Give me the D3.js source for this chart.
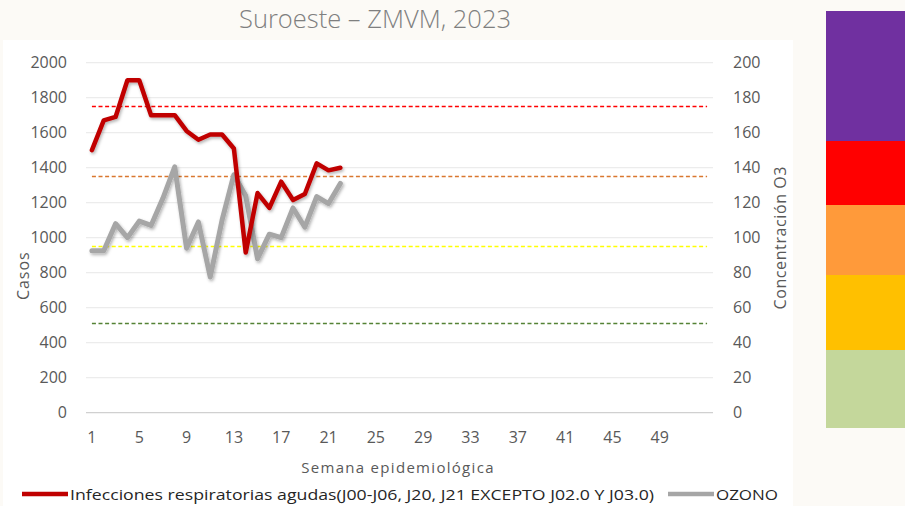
<!DOCTYPE html>
<html lang="es">
<head>
<meta charset="utf-8">
<script src="https://cdn.jsdelivr.net/npm/d3@7"></script>
<style>
  html, body { margin: 0; padding: 0; background: #fcfaf6; }
  svg { display: block; }
  text { font-family: "Open Sans", "Noto Sans", sans-serif; }
</style>
</head>
<body>
<svg id="chart" width="905" height="506"></svg>
<script>
// Epidemiological weeks shown on the category axis
const weeks = d3.range(1, 54);
const weekTicks = d3.range(1, 50, 4);

// Weekly acute respiratory infection cases (left axis)
const casos = [1500, 1670, 1690, 1900, 1900, 1700, 1700, 1700, 1610, 1560, 1590,
               1590, 1510, 915, 1255, 1170, 1320, 1215, 1250, 1425, 1385, 1400];

// Weekly ozone concentration (right axis)
const ozono = [92.5, 92.5, 108, 100, 109.5, 107, 122.5, 140.5, 94, 109, 77.5,
               110, 136, 124, 88, 102, 100, 117, 106, 123.5, 119.5, 131];

// Ozone concentration limits drawn as dashed reference lines
const limites = [51, 95, 135, 175];
const limiteColores = ["#548235", "#ffff00", "#d9772f", "#ff0000"];

// Axis ticks
const casosTicks = d3.range(0, 2001, 200);
const ozonoTicks = d3.range(0, 201, 20);

// Air quality colour key (top to bottom) with relative block heights
const claveColores = ["#7030a0", "#ff0000", "#ff9a3a", "#ffc000", "#c4d79b"];
const claveAlturas = [130, 64, 70, 75, 78];

const legendItems = [
  { label: "Infecciones respiratorias agudas(J00-J06, J20, J21 EXCEPTO J02.0 Y J03.0)", color: "#c00000" },
  { label: "OZONO", color: "#a6a6a6" }
];

const svg = d3.select("#chart");

const plot = { left: 86, right: 713, top: 62.7, bottom: 412.7 };

// Chart panel
svg.append("rect").attr("x", 3).attr("y", 40).attr("width", 790).attr("height", 466)
  .attr("fill", "#ffffff");

const defs = svg.append("defs");
const shadow = defs.append("filter").attr("id", "sombra")
  .attr("x", "-10%").attr("y", "-10%").attr("width", "120%").attr("height", "130%");
shadow.append("feDropShadow").attr("dx", 1.2).attr("dy", 1.8).attr("stdDeviation", 1.4)
  .attr("flood-color", "#000").attr("flood-opacity", 0.3);

const x = d3.scaleBand().domain(weeks).range([plot.left, plot.right]);
const yL = d3.scaleLinear().domain([0, 2000]).range([plot.bottom, plot.top]);
const yR = d3.scaleLinear().domain([0, 200]).range([plot.bottom, plot.top]);
const cx = w => x(w) + x.bandwidth() / 2;

// Horizontal gridlines
svg.append("g").selectAll("line").data(casosTicks).join("line")
  .attr("x1", plot.left).attr("x2", plot.right)
  .attr("y1", d => yL(d)).attr("y2", d => yL(d))
  .attr("stroke", d => d === 0 ? "#d0d0d0" : "#ececec").attr("stroke-width", 1.3);

const styleAxis = g => {
  g.select(".domain").remove();
  g.selectAll("text").attr("font-size", 16).attr("fill", "#595959")
    .attr("font-family", "'Open Sans', sans-serif");
};

// Left axis labels
svg.append("g").attr("transform", `translate(${plot.left - 19},0)`)
  .call(d3.axisLeft(yL).tickValues(casosTicks).tickFormat(d3.format("d")).tickSize(0).tickPadding(0))
  .call(styleAxis);

// Right axis labels
svg.append("g").attr("transform", `translate(${plot.right + 20},0)`)
  .call(d3.axisRight(yR).tickValues(ozonoTicks).tickFormat(d3.format("d")).tickSize(0).tickPadding(0))
  .call(styleAxis);

// Category axis labels
svg.append("g").attr("transform", `translate(0,${plot.bottom + 19})`)
  .call(d3.axisBottom(x).tickValues(weekTicks).tickSize(0).tickPadding(0))
  .call(styleAxis);

// Ozone limit reference lines
svg.append("g").selectAll("line").data(limites).join("line")
  .attr("x1", cx(weeks[0])).attr("x2", cx(weeks[weeks.length - 1]))
  .attr("y1", d => yR(d)).attr("y2", d => yR(d))
  .attr("stroke", (d, i) => limiteColores[i]).attr("stroke-width", 1.4)
  .attr("stroke-dasharray", "4,2.6");

// Ozone series
svg.append("path").datum(ozono)
  .attr("fill", "none").attr("stroke", "#a6a6a6").attr("stroke-width", 5)
  .attr("stroke-linejoin", "round").attr("stroke-linecap", "round")
  .attr("filter", "url(#sombra)")
  .attr("d", d3.line().x((d, i) => cx(weeks[i])).y(d => yR(d)));

// Respiratory infection cases series
svg.append("path").datum(casos)
  .attr("fill", "none").attr("stroke", "#c00000").attr("stroke-width", 4.5)
  .attr("stroke-linejoin", "round").attr("stroke-linecap", "round")
  .attr("filter", "url(#sombra)")
  .attr("d", d3.line().x((d, i) => cx(weeks[i])).y(d => yL(d)));

// Title
svg.append("text").attr("x", 375).attr("y", 28).attr("text-anchor", "middle")
  .attr("font-size", 25.5).attr("font-weight", 300).attr("fill", "#7f7f7f")
  .text("Suroeste \u2013 ZMVM, 2023");

// Axis titles
svg.append("text").attr("transform", `translate(29,${(plot.top + plot.bottom) / 2 + 38}) rotate(-90)`)
  .attr("text-anchor", "middle").attr("font-size", 16).attr("fill", "#595959")
  .attr("letter-spacing", 1).text("Casos");
svg.append("text").attr("transform", `translate(786,${(plot.top + plot.bottom) / 2}) rotate(-90)`)
  .attr("text-anchor", "middle").attr("font-size", 16).attr("fill", "#595959")
  .attr("letter-spacing", 0.6).text("Concentración O3");
svg.append("text").attr("x", 398).attr("y", 473).attr("text-anchor", "middle")
  .attr("font-size", 15).attr("fill", "#595959").attr("letter-spacing", 1.3)
  .text("Semana epidemiológica");

// Legend
const legend = svg.append("g").attr("transform", "translate(0,494)");
const legendPos = [{ x: 22, w: 584 }, { x: 668, w: 62 }];
legendItems.forEach((item, i) => {
  const p = legendPos[i];
  legend.append("line").attr("x1", p.x).attr("x2", p.x + 46).attr("y1", 0).attr("y2", 0)
    .attr("stroke", item.color).attr("stroke-width", 4.5);
  legend.append("text").attr("x", p.x + 48).attr("y", 6)
    .attr("font-size", 15).attr("fill", "#262626")
    .attr("textLength", p.w).attr("lengthAdjust", "spacingAndGlyphs")
    .text(item.label);
});

// Air quality colour key on the right edge
const claveTotal = d3.sum(claveAlturas);
const claveY = d3.scaleLinear().domain([0, claveTotal]).range([11, 428]);
const claveInicio = d3.cumsum([0, ...claveAlturas]);
svg.append("g").selectAll("rect").data(claveColores).join("rect")
  .attr("x", 826).attr("width", 79)
  .attr("y", (d, i) => claveY(claveInicio[i]))
  .attr("height", (d, i) => claveY(claveInicio[i + 1]) - claveY(claveInicio[i]))
  .attr("fill", d => d);
</script>
</body>
</html>
